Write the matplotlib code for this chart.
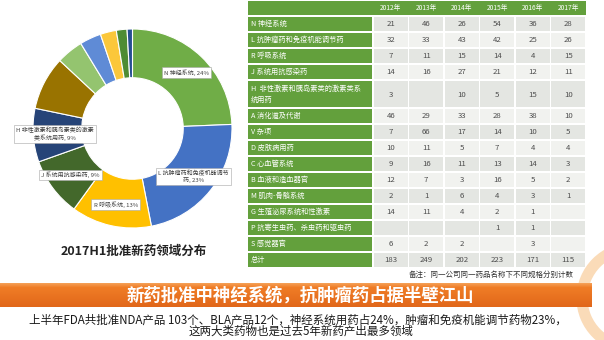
import matplotlib
matplotlib.use("Agg")
import matplotlib.pyplot as plt
import numpy as np
from matplotlib.patches import Rectangle, Arc

plt.rcParams['font.family'] = ['Noto Sans CJK SC', 'DejaVu Sans']

# table data (FDA approvals by therapeutic area)
years = ["2012年", "2013年", "2014年", "2015年", "2016年", "2017年"]
categories = [
    "N 神经系统",
    "L 抗肿瘤药和免疫机能调节药",
    "R 呼吸系统",
    "J 系统用抗感染药",
    "H  非性激素和胰岛素类的激素类系\n统用药",
    "A 消化道及代谢",
    "V 杂项",
    "D 皮肤病用药",
    "C 心血管系统",
    "B 血液和造血器官",
    "M 肌肉-骨骼系统",
    "G 生殖泌尿系统和性激素",
    "P 抗寄生虫药、杀虫药和驱虫药",
    "S 感觉器官",
]
counts = [
    [21, 46, 26, 54, 36, 28],
    [32, 33, 43, 42, 25, 26],
    [7, 11, 15, 14, 4, 15],
    [14, 16, 27, 21, 12, 11],
    [3, None, 10, 5, 15, 10],
    [46, 29, 33, 28, 38, 10],
    [7, 66, 17, 14, 10, 5],
    [10, 11, 5, 7, 4, 4],
    [9, 16, 11, 13, 14, 3],
    [12, 7, 3, 16, 5, 2],
    [2, 1, 6, 4, 3, 1],
    [14, 11, 4, 2, 1, None],
    [None, None, None, 1, 1, None],
    [6, 2, 2, None, 3, None],
]
totals = [183, 249, 202, 223, 171, 115]

# donut: 2017H1 distribution
donut_values = [28, 26, 15, 11, 10, 10, 5, 4, 3, 2, 1]
donut_labels = [
    "N 神经系统, 24%",
    "L 抗肿瘤药和免疫机能调节\n药, 23%",
    "R 呼吸系统, 13%",
    "J 系统用抗感染药, 9%",
    "H 非性激素和胰岛素类的激素\n类系统用药, 9%",
    "", "", "", "", "", "",
]
donut_colors = ["#70AD47", "#4472C4", "#FFC000", "#43682B", "#264478", "#997300",
                "#94C46F", "#5F8BD6", "#FBC73A", "#4E8C34", "#264F91"]

W, H = 604, 340
fig = plt.figure(figsize=(W / 100, H / 100), dpi=100)
fig.patch.set_facecolor("white")

ax = fig.add_axes([0, 0, 1, 1])
ax.set_xlim(0, W)
ax.set_ylim(H, 0)
ax.axis("off")

# --- donut ---
cx, cy, r = 132.5, 128.5, 99.5
ax_d = fig.add_axes([(cx - r) / W, 1 - (cy + r) / H, 2 * r / W, 2 * r / H])
wedges, texts = ax_d.pie(
    donut_values, startangle=90, counterclock=False, colors=donut_colors,
    labels=donut_labels, labeldistance=0.78,
    wedgeprops=dict(width=0.49, edgecolor="white", linewidth=0.8),
    textprops=dict(fontsize=4.3, ha="center", va="center", color="#404040"),
)
for t in texts:
    if t.get_text():
        t.set_multialignment("center")
        t.set_bbox(dict(boxstyle="square,pad=0.35", facecolor="white",
                        edgecolor="#A6A6A6", linewidth=0.4))
ax_d.set_xlim(-1, 1)
ax_d.set_ylim(-1, 1)
ax_d.set_aspect("equal")
ax_d.axis("off")

ax.text(134, 251, "2017H1批准新药领域分布", fontsize=9, fontweight="bold",
        color="#222222", ha="center", va="center")

# --- table ---
green = "#63A03C"
x0, xl, x1 = 248, 373, 586
col_w = (x1 - xl) / len(years)
row_h = 16
gap = 0.6

y = 0
ax.add_patch(Rectangle((x0, y + gap), x1 - x0, row_h - 2 * gap, color=green, lw=0))
for j, yr in enumerate(years):
    ax.text(xl + (j + 0.5) * col_w, y + row_h / 2, yr, fontsize=4.8, color="white",
            ha="center", va="center")
y += row_h

rows = list(zip(categories, counts)) + [("总计", totals)]
for i, (cat, vals) in enumerate(rows):
    h = 28 if "\n" in cat else row_h
    ax.add_patch(Rectangle((x0, y + gap), xl - x0 - gap, h - 2 * gap, color=green, lw=0))
    ax.text(x0 + 3, y + h / 2, cat, fontsize=5.2, color="white", ha="left", va="center",
            linespacing=1.5)
    cell = "#E4E6E2" if i % 2 == 0 else "#F1F2EF"
    for j, v in enumerate(vals):
        ax.add_patch(Rectangle((xl + j * col_w + gap, y + gap), col_w - 2 * gap, h - 2 * gap,
                               color=cell, lw=0))
        if v is not None:
            ax.text(xl + (j + 0.5) * col_w, y + h / 2 + (1 if h > row_h else 0), str(v),
                    fontsize=5.6, color="#4D4D4D", ha="center", va="center")
    y += h

ax.text(491, 275, "备注：同一公司同一药品名称下不同规格分别计数", fontsize=5.4,
        color="#333333", ha="center", va="center")

# --- decoration and banner ---
ax.add_patch(Arc((632, 298), 100, 100, color="#F9D2A6", lw=8, alpha=0.8, zorder=1))

top = np.array([0.96, 0.62, 0.33])
mid = np.array([0.94, 0.49, 0.15])
bot = np.array([0.88, 0.40, 0.10])
n = 24
grad = np.vstack([top + (mid - top) * k / 4 for k in range(4)] +
                 [mid + (bot - mid) * k / (n - 4) for k in range(n - 4)])
img = np.repeat(grad[:, None, :], 2, axis=1)
ax.imshow(img, extent=[0, 592, 307, 283], aspect="auto", zorder=2, interpolation="bilinear")
ax.set_xlim(0, W)
ax.set_ylim(H, 0)

ax.text(300, 295.5, "新药批准中神经系统，抗肿瘤药占据半壁江山", fontsize=12.5,
        fontweight="bold", color="white", ha="center", va="center", zorder=3)

ax.text(298, 320, "上半年FDA共批准NDA产品 103个、BLA产品12个，神经系统用药占24%，肿瘤和免疫机能调节药物23%，",
        fontsize=8.3, color="#1A1A1A", ha="center", va="center")
ax.text(301, 331.5, "这两大类药物也是过去5年新药产出最多领域", fontsize=8.3,
        color="#1A1A1A", ha="center", va="center")

fig.savefig("out.png", dpi=100, facecolor="white")
